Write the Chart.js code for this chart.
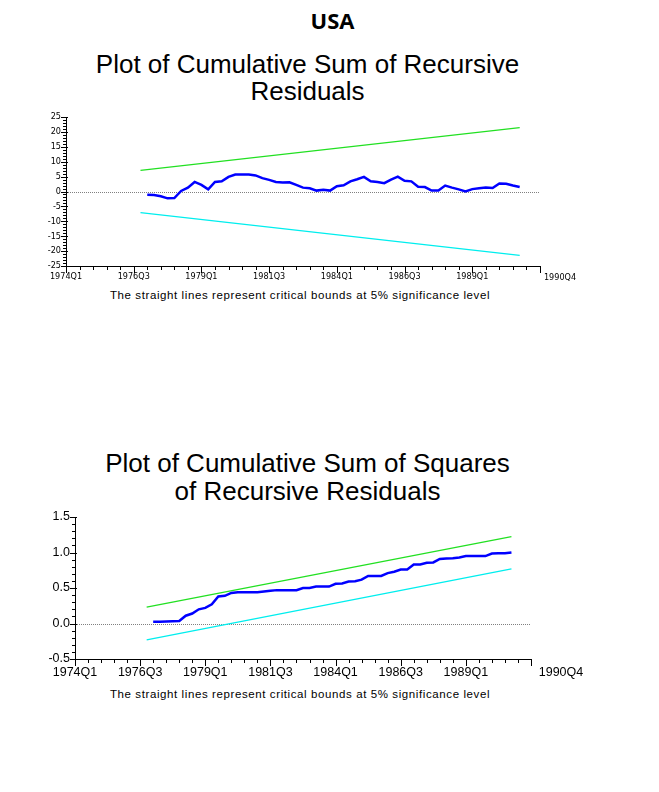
<!DOCTYPE html>
<html>
<head>
<meta charset="utf-8">
<script src="https://cdn.jsdelivr.net/npm/chart.js@4"></script>
<style>
  body { margin: 0; background: #fff; }
  #page { position: relative; width: 659px; height: 792px; overflow: hidden; font-family: "Liberation Sans", Arial, sans-serif; color: #000; }
  .txt { position: absolute; left: 0; text-align: center; white-space: nowrap; }
  #country { top: 6.5px; width: 665px; font: bold 22px "Open Sans", sans-serif; line-height: 26px; }
  .title { width: 615px; font-size: 26px; line-height: 27px; }
  .note { width: 600px; font-size: 11.5px; letter-spacing: 0.6px; line-height: 14px; }
  canvas { position: absolute; left: 0; }
</style>
</head>
<body>
<div id="page">
  <div id="country" class="txt">USA</div>
  <div class="txt title" style="top:50.5px">Plot of Cumulative Sum of Recursive<br>Residuals</div>
  <canvas id="cusumChart" width="659" height="185" style="top:100px"></canvas>
  <div class="txt note" style="top:287.5px">The straight lines represent critical bounds at 5% significance level</div>

  <div class="txt title" style="top:449px; line-height:28px">Plot of Cumulative Sum of Squares<br>of Recursive Residuals</div>
  <canvas id="cusumsqChart" width="659" height="185" style="top:500px"></canvas>
  <div class="txt note" style="top:687px">The straight lines represent critical bounds at 5% significance level</div>
</div>
<script>
// x axis is a quarter index: 0 = 1974Q1
const xTickValues = [0, 10, 20, 30, 40, 50, 60];
const xTickLabels = ['1974Q1', '1976Q3', '1979Q1', '1981Q3', '1984Q1', '1986Q3', '1989Q1'];
const xEndLabel = '1990Q4';
const xMax = 70;

// recursive residual series start at 1977Q1
const firstQuarter = 12;
const cusum = [-1.1, -1.2, -1.6, -2.3, -2.2, 0.2, 1.3, 3.2, 2.2, 0.7,
               3.2, 3.4, 4.9, 5.7, 5.7, 5.7, 5.4, 4.5, 3.9, 3.2,
               3.0, 3.1, 2.2, 1.3, 1.1, 0.3, 0.6, 0.3, 1.8, 2.1,
               3.4, 4.1, 4.9, 3.4, 3.2, 2.8, 4.0, 5.0, 3.6, 3.4,
               1.6, 1.5, 0.3, 0.3, 2.0, 1.3, 0.7, 0.0, 0.8, 1.1,
               1.3, 1.2, 2.7, 2.6, 2.0, 1.5];
const cusumsq = [0.025, 0.025, 0.027, 0.03, 0.035, 0.11, 0.14, 0.20, 0.22, 0.27,
                 0.38, 0.39, 0.43, 0.44, 0.44, 0.44, 0.44, 0.45, 0.46, 0.47,
                 0.47, 0.47, 0.47, 0.50, 0.50, 0.52, 0.52, 0.52, 0.56, 0.565,
                 0.59, 0.595, 0.617, 0.67, 0.67, 0.67, 0.71, 0.73, 0.76, 0.76,
                 0.83, 0.83, 0.855, 0.86, 0.91, 0.915, 0.92, 0.93, 0.95, 0.95,
                 0.95, 0.95, 0.985, 0.99, 0.99, 1.0];

// 5% critical bounds (straight lines, start and end)
const boundQuarters = [11, 67];
const cusumUpper = [7.1, 21.4];
const cusumLower = [-7.1, -21.4];
const cusumsqUpper = [0.23, 1.225];
const cusumsqLower = [-0.23, 0.77];

const toPoints = (xs, ys) => ys.map((v, i) => ({ x: xs[i], y: v }));
const seriesPoints = ys => ys.map((v, i) => ({ x: firstQuarter + i, y: v }));

// zero line, tick marks (minor/major) and the trailing date label
const axisMarks = {
    id: 'axisMarks',
    beforeDatasetsDraw(chart) {
        const { ctx, scales: { x, y } } = chart;
        const y0 = Math.round(y.getPixelForValue(0)) + 0.5;
        ctx.save();
        ctx.strokeStyle = '#808080';
        ctx.lineWidth = 1;
        ctx.setLineDash([1, 1]);
        ctx.beginPath();
        ctx.moveTo(x.left, y0);
        ctx.lineTo(x.right, y0);
        ctx.stroke();
        ctx.restore();
    },
    afterDraw(chart, args, opts) {
        const { ctx, scales: { x, y } } = chart;
        ctx.save();
        ctx.strokeStyle = '#000';
        ctx.lineWidth = 1;
        x.ticks.forEach(t => {
            const px = Math.round(x.getPixelForValue(t.value)) + 0.5;
            const len = t.value % 10 === 0 ? 7 : 4;
            ctx.beginPath();
            ctx.moveTo(px, x.top);
            ctx.lineTo(px, x.top + len);
            ctx.stroke();
        });
        y.ticks.forEach(t => {
            const py = Math.round(y.getPixelForValue(t.value)) + 0.5;
            const major = t.label !== '';
            ctx.beginPath();
            ctx.moveTo(y.right - (major ? 5 : 3), py);
            ctx.lineTo(y.right + (major ? 2 : 1), py);
            ctx.stroke();
        });
        ctx.fillStyle = '#000';
        ctx.font = opts.font;
        ctx.textAlign = 'center';
        ctx.textBaseline = 'alphabetic';
        ctx.fillText(xEndLabel, x.right + opts.endOffset, x.top + opts.baselineGap);
        ctx.restore();
    }
};

function makeChart(id, s) {
    const tickFont = { family: s.fontFamily, size: s.fontSize };
    return new Chart(document.getElementById(id), {
        type: 'line',
        data: {
            datasets: [
                {
                    data: seriesPoints(s.series),
                    borderColor: '#0000ff',
                    borderWidth: 2.5,
                    pointRadius: 0,
                    tension: 0
                },
                {
                    data: toPoints(boundQuarters, s.upper),
                    borderColor: '#22e022',
                    borderWidth: 1.3,
                    pointRadius: 0
                },
                {
                    data: toPoints(boundQuarters, s.lower),
                    borderColor: '#00eeee',
                    borderWidth: 1.3,
                    pointRadius: 0
                }
            ]
        },
        options: {
            responsive: false,
            animation: false,
            devicePixelRatio: 1,
            layout: { padding: { left: 0, right: s.padRight, top: 17, bottom: 0 } },
            plugins: {
                legend: { display: false },
                tooltip: { enabled: false },
                axisMarks: {
                    font: s.fontSize + 'px ' + s.fontFamily,
                    endOffset: s.endOffset,
                    baselineGap: s.baselineGap
                }
            },
            scales: {
                x: {
                    type: 'linear',
                    min: 0,
                    max: xMax,
                    afterFit: sc => { sc.height = s.xHeight; },
                    grid: { drawOnChartArea: false, drawTicks: false },
                    border: { color: '#000', width: 1 },
                    ticks: {
                        stepSize: 2,
                        autoSkip: false,
                        maxRotation: 0,
                        padding: s.xPad,
                        color: '#000',
                        font: tickFont,
                        callback: v => {
                            const i = xTickValues.indexOf(v);
                            return i >= 0 ? xTickLabels[i] : '';
                        }
                    }
                },
                y: {
                    min: s.yMin,
                    max: s.yMax,
                    afterFit: sc => { sc.width = s.yWidth; },
                    grid: { drawOnChartArea: false, drawTicks: false },
                    border: { color: '#000', width: 1 },
                    ticks: {
                        stepSize: s.yMinor,
                        autoSkip: false,
                        padding: 5,
                        color: '#000',
                        font: tickFont,
                        callback: v => {
                            const r = v / s.yMajor;
                            return Math.abs(r - Math.round(r)) < 1e-6 ? s.fmt(v) : '';
                        }
                    }
                }
            }
        },
        plugins: [axisMarks]
    });
}

makeChart('cusumChart', {
    series: cusum, upper: cusumUpper, lower: cusumLower,
    yMin: -25, yMax: 25, yMinor: 1, yMajor: 5, fmt: v => String(Math.round(v)),
    fontFamily: '"Liberation Sans Narrow", "DejaVu Sans Condensed", sans-serif', fontSize: 9,
    padRight: 119, yWidth: 66, xHeight: 19, xPad: 5,
    endOffset: 20, baselineGap: 13.5
});

makeChart('cusumsqChart', {
    series: cusumsq, upper: cusumsqUpper, lower: cusumsqLower,
    yMin: -0.5, yMax: 1.5, yMinor: 0.1, yMajor: 0.5, fmt: v => v.toFixed(1),
    fontFamily: '"Liberation Sans", Arial, sans-serif', fontSize: 12.5,
    padRight: 128, yWidth: 75, xHeight: 26, xPad: 6,
    endOffset: 30, baselineGap: 16.5
});
</script>
</body>
</html>
